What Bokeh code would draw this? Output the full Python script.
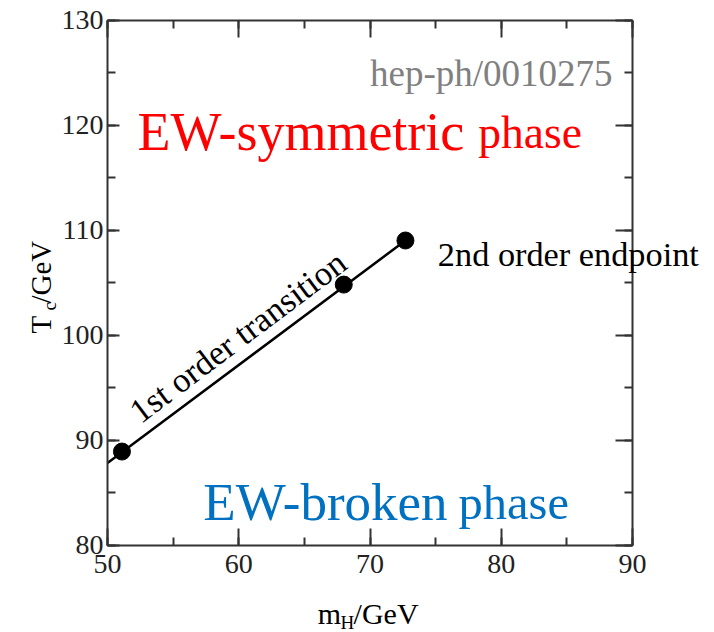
import math
from bokeh.plotting import figure
from bokeh.models import Range1d, LinearAxis, Label, SingleIntervalTicker, CustomJSTickFormatter
from bokeh.embed import file_html
from bokeh.resources import INLINE

# ---- data ----
mh_points = [51.1, 68.0, 72.7]          # m_H / GeV
tc_points = [88.9, 104.8, 109.0]        # T_c / GeV
line_mh = [50.0, 72.7]                  # 1st order transition line
line_tc = [87.8, 109.0]
x_lim = (50, 90)
y_lim = (80, 130)

SERIF = "Liberation Serif"
AX = "#333333"

# layout: the plotting box spans 525x525 px, placed at (107, 19.5) in a 714x632 canvas
W, H = 714, 632
LEFT, TOP, BOX = 107.0, 19.5, 525.0
kx = BOX / (x_lim[1] - x_lim[0])
ky = BOX / (y_lim[1] - y_lim[0])
xr = Range1d(x_lim[0] - LEFT / kx, x_lim[1] + (W - LEFT - BOX) / kx)
yr = Range1d(y_lim[0] - (H - TOP - BOX) / ky, y_lim[1] + TOP / ky)

p = figure(frame_width=W, frame_height=H, min_border=0,
           x_range=xr, y_range=yr,
           x_axis_location=None, y_axis_location=None,
           output_backend="svg", toolbar_location=None,
           background_fill_color="white", border_fill_color="white")
p.grid.visible = False
p.outline_line_color = None

def make_axis(place, loc, bounds, major_in, show_labels):
    ax = LinearAxis(fixed_location=loc, bounds=bounds)
    ax.ticker = SingleIntervalTicker(interval=10, num_minor_ticks=2)
    ax.axis_line_color = AX
    ax.axis_line_width = 2
    ax.major_tick_line_color = AX
    ax.major_tick_line_width = 2
    ax.minor_tick_line_color = AX
    ax.minor_tick_line_width = 2
    ax.major_tick_in = major_in
    ax.major_tick_out = 0
    ax.minor_tick_in = 8
    ax.minor_tick_out = 0
    ax.major_label_text_font = SERIF
    ax.major_label_text_color = "#222222"
    ax.major_label_text_font_size = "28px"
    if not show_labels:
        ax.formatter = CustomJSTickFormatter(code="return ''")
        ax.major_label_standoff = 0
    p.add_layout(ax, place)
    return ax

bx = make_axis("below", y_lim[0], x_lim, 17, True)
ly = make_axis("left", x_lim[0], y_lim, 12, True)
make_axis("above", y_lim[1], x_lim, 17, False)
make_axis("right", x_lim[1], y_lim, 17, False)
bx.major_label_standoff = 10
ly.major_label_standoff = 4

# transition line and points
p.line(line_mh, line_tc, line_color="black", line_width=2.5)
p.scatter(mh_points, tc_points, size=17, fill_color="black", line_color="black")

def lab(x, y, text, size, color="black", angle=0.0, align="left"):
    p.add_layout(Label(x=x, y=y, text=text, text_font=SERIF,
                       text_font_size=size, text_color=color,
                       angle=angle, text_align=align,
                       text_baseline="alphabetic"))

# region labels
lab(52.28, 119.29, "EW-symmetric", "54px", "#ff0000")
lab(78.25, 119.29, "phase", "45.5px", "#ff0000")
lab(57.3, 84.05, "EW-broken", "53px", "#0070c0")
lab(76.75, 84.05, "phase", "48.5px", "#0070c0")
lab(88.48, 124.9, "hep-ph/0010275", "37px", "#808080", align="right")
lab(75.17, 107.76, "2nd order endpoint", "34.3px")
lab(51.98, 92.4, "1st order transition", "34.5px", angle=0.645)

# axis titles with subscripts
lab(66.02, 73.45, "m", "30px")
lab(67.75, 72.6, "H", "19px")
lab(68.75, 73.45, "/GeV", "30px")
lab(44.97, 100.14, "T", "29px", angle=math.pi / 2)
lab(45.58, 102.33, "c", "19px", angle=math.pi / 2)
lab(44.97, 103.0, "/GeV", "29px", angle=math.pi / 2)

open("out.html", "w").write(file_html(p, INLINE))
